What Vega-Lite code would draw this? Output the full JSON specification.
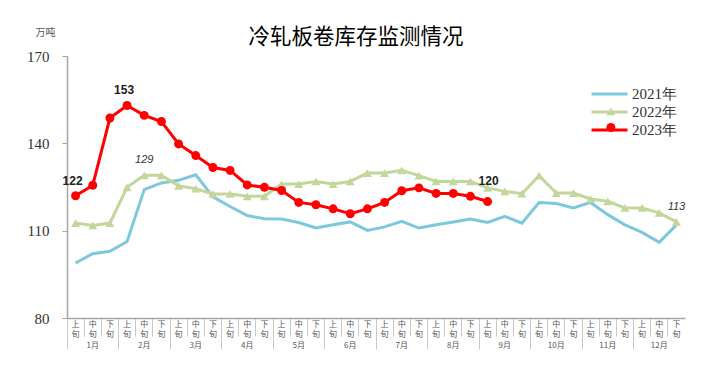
{
  "$schema": "https://vega.github.io/schema/vega-lite/v6.json",
  "width": 618,
  "height": 262,
  "autosize": "none",
  "padding": {"left": 67, "top": 56, "right": 23, "bottom": 64},
  "background": "white",
  "title": {
    "text": "冷轧板卷库存监测情况",
    "font": "Noto Sans CJK SC",
    "fontSize": 21.5,
    "fontWeight": "normal",
    "color": "#000000",
    "anchor": "middle",
    "frame": "group",
    "dx": -20,
    "dy": 29,
    "offset": 8
  },
  "config": {
    "view": {"stroke": null},
    "axis": {"grid": false}
  },
  "datasets": {
    "s": [
      {"year": "2021年", "i": 0, "v": 98.9}, {"year": "2021年", "i": 1, "v": 102.1}, {"year": "2021年", "i": 2, "v": 102.9}, {"year": "2021年", "i": 3, "v": 106.3},
      {"year": "2021年", "i": 4, "v": 124.1}, {"year": "2021年", "i": 5, "v": 126.4}, {"year": "2021年", "i": 6, "v": 127.3}, {"year": "2021年", "i": 7, "v": 129.2},
      {"year": "2021年", "i": 8, "v": 121.6}, {"year": "2021年", "i": 9, "v": 118.3}, {"year": "2021年", "i": 10, "v": 115.2}, {"year": "2021年", "i": 11, "v": 114.1},
      {"year": "2021年", "i": 12, "v": 114.0}, {"year": "2021年", "i": 13, "v": 112.8}, {"year": "2021年", "i": 14, "v": 110.9}, {"year": "2021年", "i": 15, "v": 112.0},
      {"year": "2021年", "i": 16, "v": 113.0}, {"year": "2021年", "i": 17, "v": 110.1}, {"year": "2021年", "i": 18, "v": 111.3}, {"year": "2021年", "i": 19, "v": 113.2},
      {"year": "2021年", "i": 20, "v": 110.9}, {"year": "2021年", "i": 21, "v": 112.0}, {"year": "2021年", "i": 22, "v": 113.0}, {"year": "2021年", "i": 23, "v": 114.0},
      {"year": "2021年", "i": 24, "v": 112.8}, {"year": "2021年", "i": 25, "v": 114.9}, {"year": "2021年", "i": 26, "v": 112.6}, {"year": "2021年", "i": 27, "v": 119.7},
      {"year": "2021年", "i": 28, "v": 119.3}, {"year": "2021年", "i": 29, "v": 117.8}, {"year": "2021年", "i": 30, "v": 119.7}, {"year": "2021年", "i": 31, "v": 115.5},
      {"year": "2021年", "i": 32, "v": 112.0}, {"year": "2021年", "i": 33, "v": 109.4}, {"year": "2021年", "i": 34, "v": 106.0}, {"year": "2021年", "i": 35, "v": 112.0},
      {"year": "2022年", "i": 0, "v": 112.6}, {"year": "2022年", "i": 1, "v": 111.8}, {"year": "2022年", "i": 2, "v": 112.6}, {"year": "2022年", "i": 3, "v": 124.9},
      {"year": "2022年", "i": 4, "v": 129}, {"year": "2022年", "i": 5, "v": 129}, {"year": "2022年", "i": 6, "v": 125.4}, {"year": "2022年", "i": 7, "v": 124.4},
      {"year": "2022年", "i": 8, "v": 122.6}, {"year": "2022年", "i": 9, "v": 122.6}, {"year": "2022年", "i": 10, "v": 121.8}, {"year": "2022年", "i": 11, "v": 121.8},
      {"year": "2022年", "i": 12, "v": 126.0}, {"year": "2022年", "i": 13, "v": 126.0}, {"year": "2022年", "i": 14, "v": 126.9}, {"year": "2022年", "i": 15, "v": 126.0},
      {"year": "2022年", "i": 16, "v": 126.9}, {"year": "2022年", "i": 17, "v": 129.8}, {"year": "2022年", "i": 18, "v": 129.8}, {"year": "2022年", "i": 19, "v": 130.7},
      {"year": "2022年", "i": 20, "v": 128.9}, {"year": "2022年", "i": 21, "v": 126.9}, {"year": "2022年", "i": 22, "v": 126.9}, {"year": "2022年", "i": 23, "v": 126.9},
      {"year": "2022年", "i": 24, "v": 124.7}, {"year": "2022年", "i": 25, "v": 123.5}, {"year": "2022年", "i": 26, "v": 122.7}, {"year": "2022年", "i": 27, "v": 128.9},
      {"year": "2022年", "i": 28, "v": 122.9}, {"year": "2022年", "i": 29, "v": 122.9}, {"year": "2022年", "i": 30, "v": 120.9}, {"year": "2022年", "i": 31, "v": 120.1},
      {"year": "2022年", "i": 32, "v": 117.8}, {"year": "2022年", "i": 33, "v": 117.8}, {"year": "2022年", "i": 34, "v": 116.1}, {"year": "2022年", "i": 35, "v": 113},
      {"year": "2023年", "i": 0, "v": 122}, {"year": "2023年", "i": 1, "v": 125.6}, {"year": "2023年", "i": 2, "v": 148.7}, {"year": "2023年", "i": 3, "v": 153},
      {"year": "2023年", "i": 4, "v": 149.6}, {"year": "2023年", "i": 5, "v": 147.5}, {"year": "2023年", "i": 6, "v": 139.8}, {"year": "2023年", "i": 7, "v": 135.8},
      {"year": "2023年", "i": 8, "v": 131.7}, {"year": "2023年", "i": 9, "v": 130.7}, {"year": "2023年", "i": 10, "v": 125.7}, {"year": "2023年", "i": 11, "v": 124.9},
      {"year": "2023年", "i": 12, "v": 123.8}, {"year": "2023年", "i": 13, "v": 119.7}, {"year": "2023年", "i": 14, "v": 118.9}, {"year": "2023年", "i": 15, "v": 117.5},
      {"year": "2023年", "i": 16, "v": 115.8}, {"year": "2023年", "i": 17, "v": 117.5}, {"year": "2023年", "i": 18, "v": 119.7}, {"year": "2023年", "i": 19, "v": 123.7},
      {"year": "2023年", "i": 20, "v": 124.7}, {"year": "2023年", "i": 21, "v": 122.8}, {"year": "2023年", "i": 22, "v": 122.8}, {"year": "2023年", "i": 23, "v": 121.8},
      {"year": "2023年", "i": 24, "v": 120}
    ]
  },
  "data": {"name": "s"},
  "encoding": {
    "x": {
      "field": "i",
      "type": "ordinal",
      "scale": {"type": "band", "paddingInner": 0, "paddingOuter": 0},
      "axis": {
        "title": null,
        "bandPosition": 0,
        "labelOffset": 0,
        "labelAngle": 0,
        "labelAlign": "center",
        "labelBaseline": "top",
        "labelPadding": {"condition": {"test": "datum.value % 3 === 0", "value": -29}, "value": -16},
        "labelFont": "Noto Sans CJK SC",
        "labelFontSize": 8,
        "labelLineHeight": 10.5,
        "labelColor": "#555555",
        "labelExpr": "datum.value % 3 === 1 ? ['中','旬',' ', (floor(datum.value/3)+1) + '月'] : [datum.value % 3 === 0 ? '上' : '下', '旬']",
        "domainColor": "#a6a6a6",
        "domainWidth": 1.5,
        "tickColor": "#c8c8c8",
        "tickWidth": 1,
        "tickSize": {"condition": {"test": "datum.value % 3 === 0", "value": 31}, "value": 18}
      }
    },
    "y": {
      "field": "v",
      "type": "quantitative",
      "scale": {"domain": [80, 170], "nice": false, "zero": false},
      "axis": {
        "values": [80, 110, 140, 170],
        "title": "万吨",
        "titleAngle": 0,
        "titleFont": "Noto Sans CJK SC",
        "titleFontSize": 10,
        "titleFontWeight": "normal",
        "titleColor": "#555555",
        "titleX": -22,
        "titleY": -24,
        "titleAlign": "center",
        "titleBaseline": "middle",
        "labelFont": "Liberation Serif",
        "labelFontSize": 15,
        "labelColor": "#333333",
        "labelPadding": 13,
        "tickSize": 5,
        "tickColor": "#a6a6a6",
        "domainColor": "#a6a6a6",
        "domainWidth": 1.5
      }
    }
  },
  "layer": [
    {
      "mark": {"type": "line", "strokeWidth": 3},
      "encoding": {
        "stroke": {
          "field": "year",
          "type": "nominal",
          "scale": {"domain": ["2021年", "2022年", "2023年"], "range": ["#7ec8de", "#c3d69b", "#ff0000"]},
          "legend": {
            "title": null,
            "orient": "none",
            "legendX": 533,
            "legendY": 28.5,
            "symbolType": "M-2.25,0H2.25",
            "symbolSize": 256,
            "symbolStrokeWidth": 3,
            "labelOffset": 13,
            "labelFont": "Liberation Serif",
            "labelFontSize": 15,
            "labelColor": "#333333",
            "rowPadding": 0
          }
        }
      }
    },
    {
      "mark": {"type": "point", "filled": true, "opacity": 1, "size": 80},
      "encoding": {
        "color": {
          "field": "year",
          "type": "nominal",
          "scale": {"range": ["#7ec8de", "#c3d69b", "#ff0000"]},
          "legend": {
            "title": null,
            "orient": "none",
            "legendX": 536.4,
            "legendY": 32,
            "symbolSize": 80,
            "labelExpr": "' '",
            "labelFont": "Liberation Serif",
            "labelFontSize": 15,
            "labelColor": "transparent",
            "labelOffset": 0,
            "rowPadding": 0,
            "symbolOpacity": 1
          }
        },
        "shape": {
          "field": "year",
          "type": "nominal",
          "scale": {"range": ["M0,0", "triangle-up", "circle"]},
          "legend": {
            "title": null,
            "orient": "none",
            "legendX": 536.4,
            "legendY": 32,
            "symbolSize": 80,
            "labelExpr": "' '",
            "labelFont": "Liberation Serif",
            "labelFontSize": 15,
            "labelColor": "transparent",
            "labelOffset": 0,
            "rowPadding": 0,
            "symbolOpacity": 1
          }
        }
      }
    },
    {
      "transform": [{"filter": "datum.year === '2023年' && (datum.i === 0 || datum.i === 3)"}],
      "mark": {"type": "text", "font": "Liberation Sans", "fontSize": 12, "fontWeight": "bold", "color": "#222222", "dx": -3, "dy": -11, "baseline": "alphabetic"},
      "encoding": {"text": {"field": "v", "type": "quantitative", "format": ".0f"}}
    },
    {
      "transform": [{"filter": "datum.year === '2023年' && datum.i === 24"}],
      "mark": {"type": "text", "font": "Liberation Sans", "fontSize": 12, "fontWeight": "bold", "color": "#222222", "dx": 1, "dy": -17, "baseline": "alphabetic"},
      "encoding": {"text": {"field": "v", "type": "quantitative", "format": ".0f"}}
    },
    {
      "transform": [{"filter": "datum.year === '2022年' && (datum.i === 4 || datum.i === 35)"}],
      "mark": {"type": "text", "font": "Liberation Sans", "fontSize": 11, "fontStyle": "italic", "color": "#333333", "dx": 0, "dy": -12, "baseline": "alphabetic"},
      "encoding": {"text": {"field": "v", "type": "quantitative", "format": ".0f"}}
    }
  ]
}
